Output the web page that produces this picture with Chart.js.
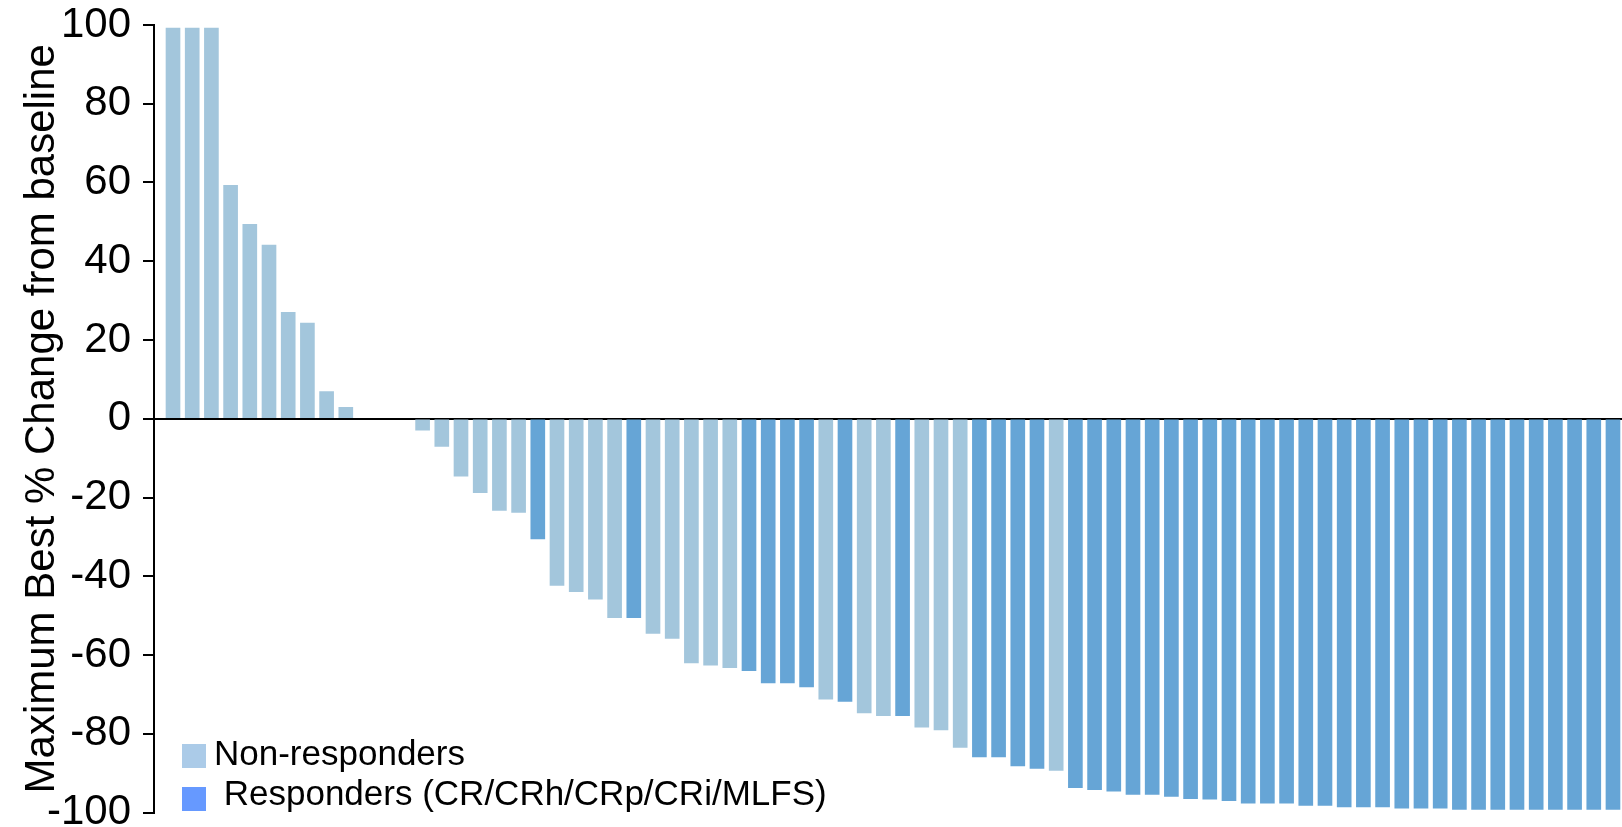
<!DOCTYPE html>
<html>
<head>
<meta charset="utf-8">
<title>Maximum Best % Change from baseline</title>
<script src="https://cdn.jsdelivr.net/npm/chart.js@4.4.1/dist/chart.umd.min.js"></script>
<style>
  html, body { margin: 0; padding: 0; background: #ffffff; }
  #wrap { width: 1622px; height: 827px; position: relative; }
  canvas { display: block; }
</style>
</head>
<body>
<div id="wrap"><canvas id="waterfall" width="1622" height="827"></canvas></div>
<script>
// Best percentage change from baseline per patient, sorted from largest increase to largest decrease
const changeFromBaseline = [
  99.2, 99.2, 99.2, 59.3, 49.4, 44.1, 27.0, 24.3, 6.9, 2.9,
  0, 0, 0,
  -2.9, -7.0, -14.6, -18.8, -23.3, -23.8, -30.5, -42.3, -43.9, -45.8,
  -50.5, -50.5, -54.5, -55.8, -62.0, -62.6, -63.2, -64.0, -67.1, -67.1,
  -68.1, -71.2, -71.8, -74.7, -75.4, -75.4, -78.3, -79.0, -83.5, -85.9,
  -85.9, -88.2, -88.8, -89.3, -93.7, -94.2, -94.6, -95.4, -95.4, -95.9,
  -96.5, -96.6, -97.0, -97.6, -97.6, -97.6, -98.2, -98.2, -98.6, -98.6,
  -98.6, -98.9, -98.9, -98.9, -99.2, -99.2, -99.2, -99.2, -99.2, -99.2,
  -99.2, -99.2, -99.2
];

// Response category per patient: 1 = responder (CR/CRh/CRp/CRi/MLFS), 0 = non-responder
const responder = [
  0, 0, 0, 0, 0, 0, 0, 0, 0, 0,
  0, 0, 0,
  0, 0, 0, 0, 0, 0, 1, 0, 0, 0,
  0, 1, 0, 0, 0, 0, 0, 1, 1, 1,
  1, 0, 1, 0, 0, 1, 0, 0, 0, 1,
  1, 1, 1, 0, 1, 1, 1, 1, 1, 1,
  1, 1, 1, 1, 1, 1, 1, 1, 1, 1,
  1, 1, 1, 1, 1, 1, 1, 1, 1, 1,
  1, 1, 1
];

const seriesNames = ['Non-responders', ' Responders (CR/CRh/CRp/CRi/MLFS)'];
const yTicks = [100, 80, 60, 40, 20, 0, -20, -40, -60, -80, -100];
const yTitle = 'Maximum Best % Change from baseline';

const barColors = ['#a3c6dc', '#66a5d6'];
const legendColors = ['#abcbe8', '#6699ff'];
const FONT = '"Liberation Sans", Arial, Helvetica, sans-serif';

// Split the patients into one dataset per response group, keeping their waterfall position
// (patients with no change have no visible bar)
function groupPoints(flag) {
  const pts = [];
  changeFromBaseline.forEach((v, i) => {
    if (responder[i] === flag && v !== 0) pts.push({ x: i, y: v });
  });
  return pts;
}

// Legend drawn in the lower-left corner of the plot area
const cornerLegend = {
  id: 'cornerLegend',
  afterDraw(chart) {
    const ctx = chart.ctx;
    const rows = [
      { box: [182, 744], textY: 765 },
      { box: [182, 787], textY: 805 }
    ];
    ctx.save();
    ctx.font = '35px ' + FONT;
    ctx.textAlign = 'left';
    ctx.textBaseline = 'alphabetic';
    chart.data.datasets.forEach((ds, k) => {
      const r = rows[k];
      ctx.fillStyle = legendColors[k];
      ctx.fillRect(r.box[0], r.box[1], 24, 24);
      ctx.fillStyle = '#000000';
      ctx.fillText(ds.label, 214, r.textY);
    });
    ctx.restore();
  }
};

new Chart(document.getElementById('waterfall'), {
  type: 'bar',
  data: {
    datasets: [
      { label: seriesNames[0], data: groupPoints(0), backgroundColor: barColors[0] },
      { label: seriesNames[1], data: groupPoints(1), backgroundColor: barColors[1] }
    ]
  },
  options: {
    responsive: false,
    animation: false,
    devicePixelRatio: 1,
    layout: { padding: { left: 0, right: 0, top: 25, bottom: 14.5 } },
    datasets: { bar: { grouped: false, barThickness: 14, borderWidth: 0 } },
    plugins: { legend: { display: false }, tooltip: { enabled: false } },
    scales: {
      x: {
        type: 'linear',
        display: false,
        offset: false,
        bounds: 'ticks',
        min: -0.99,
        max: 75.47
      },
      y: {
        min: -100,
        max: 100,
        z: 1,
        afterBuildTicks(scale) {
          scale.ticks = yTicks.map(v => ({ value: v }));
        },
        afterFit(scale) {
          scale.width = 154;
          scale.paddingTop = 0;
          scale.paddingBottom = 0;
        },
        border: { display: true, color: '#000000', width: 2 },
        grid: {
          drawOnChartArea: true,
          drawTicks: true,
          tickLength: 11,
          tickWidth: 2,
          tickColor: '#000000',
          lineWidth: 2,
          color: ctx => (ctx.tick && ctx.tick.value === 0 ? '#000000' : 'rgba(0,0,0,0)')
        },
        ticks: {
          padding: 12,
          color: '#000000',
          font: { family: FONT, size: 42 },
          callback: v => String(v)
        },
        title: {
          display: true,
          text: yTitle,
          color: '#000000',
          font: { family: FONT, size: 42 },
          padding: { top: 17, bottom: 0 }
        }
      }
    }
  },
  plugins: [cornerLegend]
});
</script>
</body>
</html>
